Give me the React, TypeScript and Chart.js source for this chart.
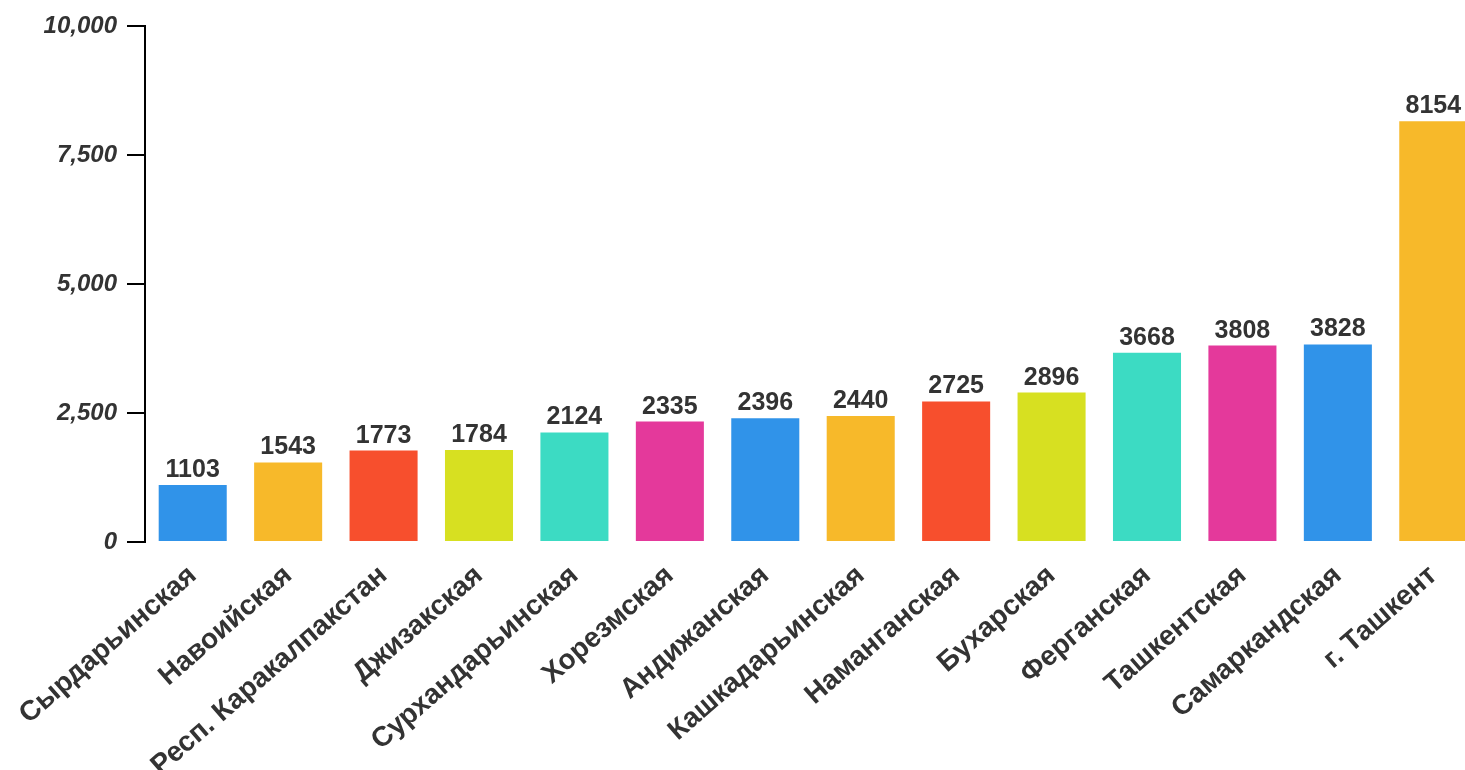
import React, { useEffect, useRef } from "react";
import { Chart, registerables } from "chart.js";

Chart.register(...registerables);

const categories = [
  "Сырдарьинская",
  "Навоийская",
  "Респ. Каракалпакстан",
  "Джизакская",
  "Сурхандарьинская",
  "Хорезмская",
  "Андижанская",
  "Кашкадарьинская",
  "Наманганская",
  "Бухарская",
  "Ферганская",
  "Ташкентская",
  "Самаркандская",
  "г. Ташкент",
];

const values = [1103, 1543, 1773, 1784, 2124, 2335, 2396, 2440, 2725, 2896, 3668, 3808, 3828, 8154];

const palette = ["#3093E9", "#F7B92A", "#F74F2D", "#D7E021", "#3CDBC3", "#E4399B"];

const yTicks = [0, 2500, 5000, 7500, 10000];

const FONT = "'Liberation Sans', Arial, sans-serif";

const valueLabelPlugin = {
  id: "valueLabels",
  afterDatasetsDraw(chart: any) {
    const ctx = chart.ctx;
    const meta = chart.getDatasetMeta(0);
    ctx.save();
    ctx.font = `bold 25px ${FONT}`;
    ctx.fillStyle = "#333333";
    ctx.textAlign = "center";
    ctx.textBaseline = "alphabetic";
    meta.data.forEach((el: any, i: number) => {
      ctx.fillText(String(values[i]), el.x, el.y - 8);
    });
    ctx.restore();
  },
};

export default function App() {
  const ref = useRef<HTMLCanvasElement | null>(null);

  useEffect(() => {
    if (!ref.current) return;
    const chart = new Chart(ref.current, {
      type: "bar",
      data: {
        labels: categories,
        datasets: [
          {
            data: values,
            backgroundColor: values.map((_, i) => palette[i % palette.length]),
            barPercentage: 0.713,
            categoryPercentage: 1,
          },
        ],
      },
      plugins: [valueLabelPlugin],
      options: {
        responsive: false,
        animation: false,
        devicePixelRatio: 1,
        layout: { padding: { top: 26, right: 1, left: 0, bottom: 0 } },
        plugins: { legend: { display: false }, tooltip: { enabled: false } },
        scales: {
          x: {
            grid: { display: false },
            border: { display: false },
            ticks: {
              minRotation: 41,
              maxRotation: 41,
              autoSkip: false,
              padding: 9,
              color: "#333333",
              font: { family: FONT, size: 28, weight: "bold" },
            },
            afterFit: (scale: any) => {
              scale.height = 228;
            },
          },
          y: {
            min: 0,
            max: 10000,
            afterBuildTicks: (scale: any) => {
              scale.ticks = yTicks.map((v) => ({ value: v }));
            },
            grid: {
              display: true,
              drawOnChartArea: false,
              drawTicks: true,
              tickLength: 18,
              color: "#000000",
              lineWidth: 2,
            },
            border: { display: true, color: "#000000", width: 2 },
            ticks: {
              padding: 10,
              color: "#333333",
              font: { family: FONT, size: 24, weight: "bold", style: "italic" },
              callback: (v: any) => Number(v).toLocaleString("en-US"),
            },
            afterFit: (scale: any) => {
              scale.width = 145;
            },
          },
        },
      },
    });
    return () => chart.destroy();
  }, []);

  return (
    <div
      style={{
        position: "fixed",
        left: 0,
        top: 0,
        width: 1465,
        height: 770,
        overflow: "hidden",
        background: "#ffffff",
      }}
    >
      <canvas ref={ref} width={1482} height={770} style={{ display: "block" }} />
    </div>
  );
}
